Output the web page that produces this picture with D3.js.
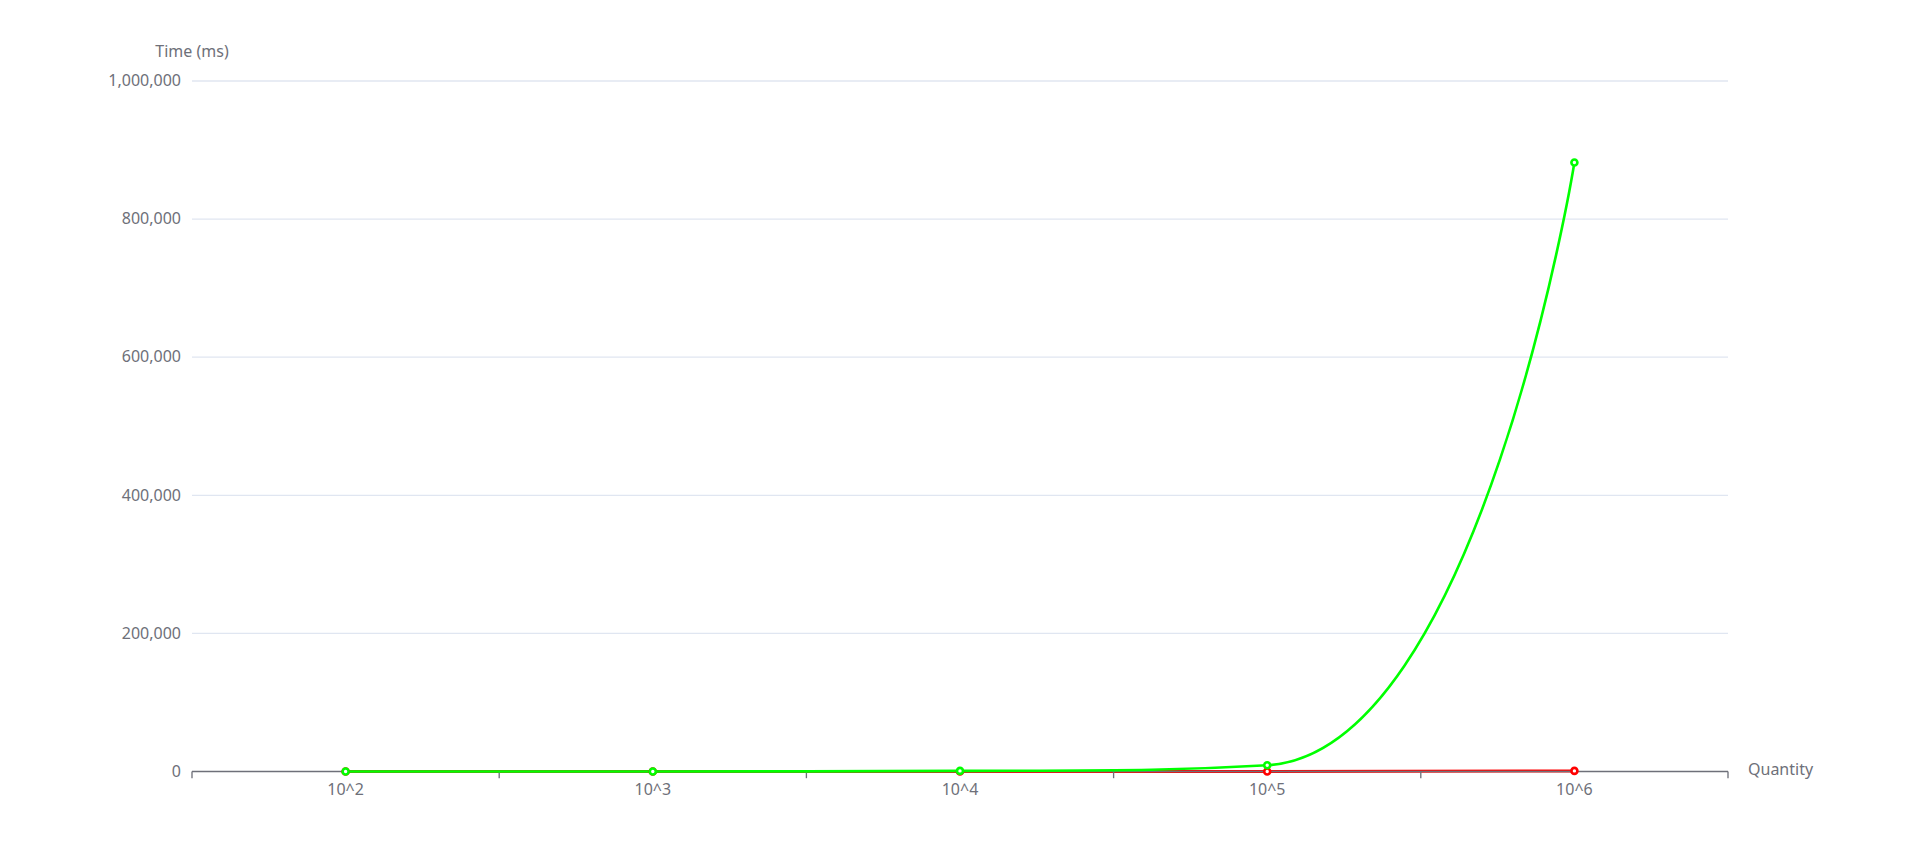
<!DOCTYPE html>
<html>
<head>
<meta charset="utf-8">
<script src="https://cdn.jsdelivr.net/npm/d3@7"></script>
<style>
    body { margin: 0; background: #fff; }
</style>
</head>
<body>
<div id="wrapper"></div>
<script>
const categories = ["10^2", "10^3", "10^4", "10^5", "10^6"];
const fastSeries = [0.05, 0.5, 6, 80, 900];
const slowSeries = [1, 90, 900, 9000, 882000];
const yTicks = [0, 200000, 400000, 600000, 800000, 1000000];

const AXIS_COLOR = "#6E7079";
const GRID_COLOR = "#E0E6F1";
const FONT_FAMILY = "'Noto Sans', sans-serif";
const FONT_SIZE = "16px";
const SMOOTH = 0.5;

// bezier smoothing with control points clamped between neighbours
function SmoothCurve(context) {
    this._context = context;
}
SmoothCurve.prototype = {
    areaStart() {},
    areaEnd() {},
    lineStart() { this._pts = []; },
    point(x, y) { this._pts.push([+x, +y]); },
    lineEnd() {
        const p = this._pts;
        const n = p.length;
        if (!n) return;
        const cpIn = p.map(d => d.slice());
        const cpOut = p.map(d => d.slice());
        const clamp = (v, a, b) => Math.min(Math.max(v, Math.min(a, b)), Math.max(a, b));
        for (let i = 1; i < n - 1; i++) {
            const [px, py] = p[i - 1];
            const [x, y] = p[i];
            const [nx, ny] = p[i + 1];
            let vx = nx - px;
            let vy = ny - py;
            const lenPrev = Math.hypot(x - px, y - py);
            const lenNext = Math.hypot(nx - x, ny - y);
            if (!lenPrev || !lenNext) continue;
            const ratio = lenNext / (lenNext + lenPrev);
            let c1x = clamp(x + vx * SMOOTH * ratio, x, nx);
            let c1y = clamp(y + vy * SMOOTH * ratio, y, ny);
            vx = c1x - x;
            vy = c1y - y;
            let c0x = clamp(x - vx * lenPrev / lenNext, px, x);
            let c0y = clamp(y - vy * lenPrev / lenNext, py, y);
            vx = x - c0x;
            vy = y - c0y;
            c1x = x + vx * lenNext / lenPrev;
            c1y = y + vy * lenNext / lenPrev;
            cpIn[i] = [c0x, c0y];
            cpOut[i] = [c1x, c1y];
        }
        this._context.moveTo(p[0][0], p[0][1]);
        for (let i = 0; i < n - 1; i++) {
            this._context.bezierCurveTo(
                cpOut[i][0], cpOut[i][1],
                cpIn[i + 1][0], cpIn[i + 1][1],
                p[i + 1][0], p[i + 1][1]
            );
        }
    },
};
const curveSmooth = context => new SmoothCurve(context);

const dimensions = {
    width: 1919,
    height: 865,
    margin: { top: 81, right: 191, bottom: 93.5, left: 192 },
};
dimensions.boundedWidth = dimensions.width - dimensions.margin.left - dimensions.margin.right;
dimensions.boundedHeight = dimensions.height - dimensions.margin.top - dimensions.margin.bottom;

const wrapper = d3.select("#wrapper")
    .append("svg")
    .attr("width", dimensions.width)
    .attr("height", dimensions.height);

const bounds = wrapper.append("g")
    .attr("transform", `translate(${dimensions.margin.left},${dimensions.margin.top})`);

const xScale = d3.scaleBand()
    .domain(categories)
    .range([0, dimensions.boundedWidth]);

const yScale = d3.scaleLinear()
    .domain([0, 1000000])
    .range([dimensions.boundedHeight, 0]);

const xCenter = d => xScale(d) + xScale.bandwidth() / 2;

// grid lines
bounds.append("g")
    .selectAll("line")
    .data(yTicks.filter(d => d > 0))
    .enter().append("line")
    .attr("x1", 0)
    .attr("x2", dimensions.boundedWidth)
    .attr("y1", d => yScale(d))
    .attr("y2", d => yScale(d))
    .attr("stroke", GRID_COLOR)
    .attr("stroke-width", 1.33);

// y labels
bounds.append("g")
    .selectAll("text")
    .data(yTicks)
    .enter().append("text")
    .attr("x", -11)
    .attr("y", d => yScale(d))
    .attr("dy", "0.33em")
    .attr("text-anchor", "end")
    .attr("fill", AXIS_COLOR)
    .style("font-family", FONT_FAMILY)
    .style("font-size", FONT_SIZE)
    .text(d => d3.format(",")(d));

bounds.append("text")
    .attr("x", 0)
    .attr("y", -24)
    .attr("text-anchor", "middle")
    .attr("fill", AXIS_COLOR)
    .style("font-family", FONT_FAMILY)
    .style("font-size", FONT_SIZE)
    .text("Time (ms)");

const line = d3.line()
    .x((d, i) => xCenter(categories[i]))
    .y(d => yScale(d))
    .curve(curveSmooth);

const series = [
    { values: fastSeries, color: "#ff0000" },
    { values: slowSeries, color: "#00ff00" },
];

// red line sits under the axis line
bounds.append("path")
    .datum(fastSeries)
    .attr("d", line)
    .attr("fill", "none")
    .attr("stroke", "#ff0000")
    .attr("stroke-width", 3);

// x axis
const xAxisGroup = bounds.append("g")
    .attr("transform", `translate(0,${dimensions.boundedHeight})`);

xAxisGroup.append("line")
    .attr("x1", 0)
    .attr("x2", dimensions.boundedWidth)
    .attr("stroke", AXIS_COLOR)
    .attr("stroke-width", 1.6);

const boundaries = d3.range(categories.length + 1)
    .map(i => i * xScale.step());

xAxisGroup.selectAll(".tick")
    .data(boundaries)
    .enter().append("line")
    .attr("x1", d => d)
    .attr("x2", d => d)
    .attr("y1", 0)
    .attr("y2", 6.7)
    .attr("stroke", AXIS_COLOR)
    .attr("stroke-width", 1.33);

xAxisGroup.selectAll(".label")
    .data(categories)
    .enter().append("text")
    .attr("x", xCenter)
    .attr("y", 18)
    .attr("dy", "0.33em")
    .attr("text-anchor", "middle")
    .attr("fill", AXIS_COLOR)
    .style("font-family", FONT_FAMILY)
    .style("font-size", FONT_SIZE)
    .text(d => d);

xAxisGroup.append("text")
    .attr("x", dimensions.boundedWidth + 20)
    .attr("y", -2)
    .attr("dy", "0.33em")
    .attr("fill", AXIS_COLOR)
    .style("font-family", FONT_FAMILY)
    .style("font-size", FONT_SIZE)
    .text("Quantity");

bounds.append("path")
    .datum(slowSeries)
    .attr("d", line)
    .attr("fill", "none")
    .attr("stroke", "#00ff00")
    .attr("stroke-width", 2.6);

series.forEach(s => {
    bounds.append("g")
        .selectAll("circle")
        .data(s.values)
        .enter().append("circle")
        .attr("cx", (d, i) => xCenter(categories[i]))
        .attr("cy", d => yScale(d))
        .attr("r", 3)
        .attr("fill", "#fff")
        .attr("stroke", s.color)
        .attr("stroke-width", 2.6);
});
</script>
</body>
</html>
